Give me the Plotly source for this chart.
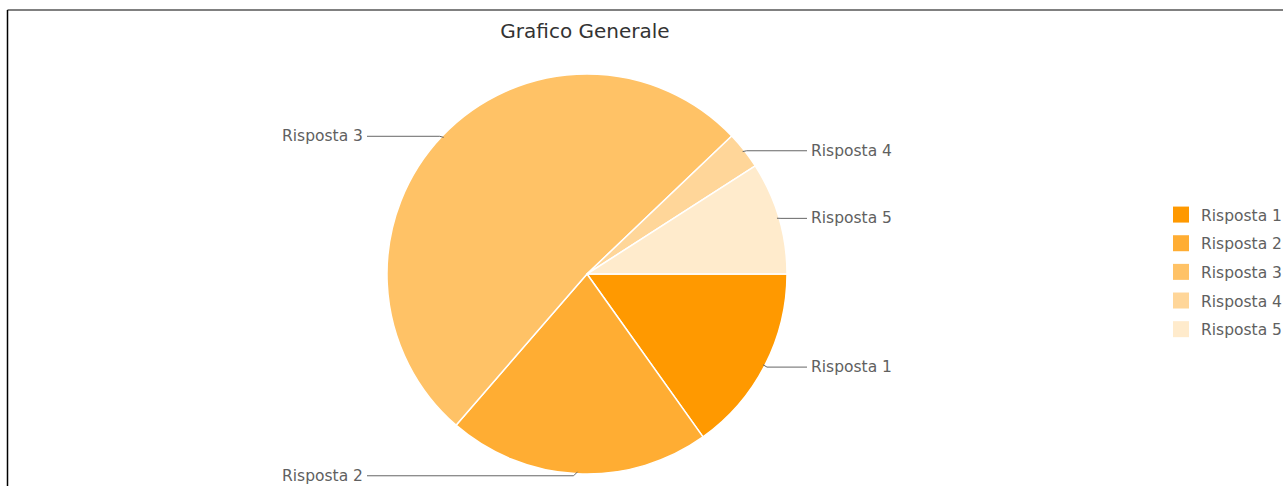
import math
import plotly.graph_objects as go

# ---- data ----
labels = ["Risposta 1", "Risposta 2", "Risposta 3", "Risposta 4", "Risposta 5"]
values = [5, 7, 17, 1, 3]
colors = ["#FF9900", "#FFAD33", "#FFC266", "#FFD699", "#FFEBCC"]
title_text = "Grafico Generale"

# ---- layout constants (pixels) ----
W, H = 1283, 486
CX, CY, R = 587, 274, 200
LABEL_DX = 220
FONT = "DejaVu Sans"
TXT = "#606060"


def px(x):
    return x / W


def py(y):
    return 1 - y / H


fig = go.Figure()

fig.add_trace(go.Pie(
    labels=labels, values=values, sort=False, direction="clockwise",
    rotation=90, textinfo="none", showlegend=False,
    marker=dict(colors=colors, line=dict(color="#FFFFFF", width=1.5)),
    domain=dict(x=[px(CX - R), px(CX + R)], y=[py(CY + R), py(CY - R)]),
))

# legend entries (square swatches) from the same category/colour lists
for lab, col in zip(labels, colors):
    fig.add_trace(go.Scatter(
        x=[None], y=[None], mode="markers", name=lab, legendgroup=lab,
        marker=dict(symbol="square", size=17, color=col),
        hoverinfo="skip",
    ))

# outside labels with connectors, computed from the data
total = sum(values)
cum = 0
shapes = []
annotations = []
for lab, v in zip(labels, values):
    mid = (cum + v / 2) / total * 2 * math.pi
    cum += v
    c, s = math.cos(mid), math.sin(mid)
    sgn = 1 if c >= 0 else -1
    ex, ey = CX + (R - 2) * c, CY + (R - 2) * s
    ly = CY + (R + 1) * s + 1
    bx = ex + sgn * 4
    lx = CX + sgn * LABEL_DX
    shapes.append(dict(
        type="path", xref="paper", yref="paper",
        path=f"M {px(lx)},{py(ly)} L {px(bx)},{py(ly)} L {px(ex)},{py(ey)}",
        line=dict(color="#666666", width=1),
    ))
    annotations.append(dict(
        x=px(lx + sgn * 2), y=py(ly), xref="paper", yref="paper",
        text=lab, showarrow=False,
        xanchor="left" if sgn > 0 else "right", yanchor="middle",
        font=dict(family=FONT, size=15.5, color=TXT),
    ))

# container border (top and left)
shapes.append(dict(type="line", xref="paper", yref="paper",
                   x0=px(7.5), x1=1, y0=py(10), y1=py(10),
                   line=dict(color="#808080", width=2)))
shapes.append(dict(type="line", xref="paper", yref="paper",
                   x0=px(7.5), x1=px(7.5), y0=py(10), y1=0,
                   line=dict(color="#000000", width=1.5)))

fig.update_layout(
    width=W, height=H,
    margin=dict(l=0, r=0, t=0, b=0, autoexpand=False),
    paper_bgcolor="#FFFFFF", plot_bgcolor="#FFFFFF",
    title=dict(text=title_text, x=px(585), y=py(31),
               xref="container", yref="container",
               xanchor="center", yanchor="middle",
               font=dict(family=FONT, size=20, color="#333333")),
    xaxis=dict(visible=False), yaxis=dict(visible=False),
    showlegend=True,
    legend=dict(x=px(1161), y=py(198), xanchor="left", yanchor="top",
                font=dict(family=FONT, size=15.5, color=TXT),
                tracegroupgap=5.5, bgcolor="rgba(0,0,0,0)",
                itemclick=False, itemdoubleclick=False),
    shapes=shapes, annotations=annotations,
)

fig.write_html(
    "out.html",
    config={"displayModeBar": False},
    post_script="document.body.style.margin='0';document.body.style.overflow='hidden';",
)
